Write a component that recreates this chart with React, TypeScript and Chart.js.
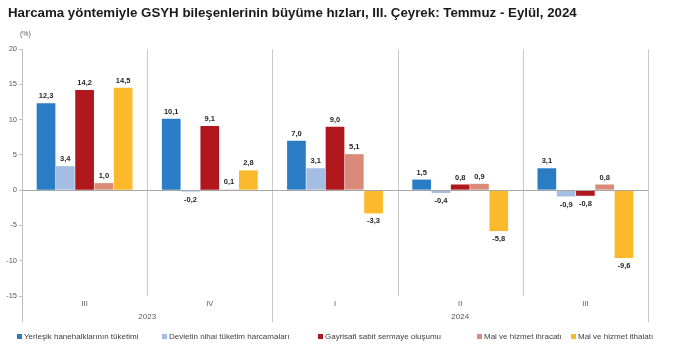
import React, { useEffect, useRef } from "react";
import { Chart, registerables } from "chart.js";

Chart.register(...registerables);

const TITLE = "Harcama yöntemiyle GSYH bileşenlerinin büyüme hızları, III. Çeyrek: Temmuz - Eylül, 2024";
const UNIT = "(%)";
const quarters = ["III", "IV", "I", "II", "III"];
const years = [
  { label: "2023", from: 0, to: 2 },
  { label: "2024", from: 2, to: 5 },
];
const seriesNames = [
  "Yerleşik hanehalklarının tüketimi",
  "Devletin nihai tüketim harcamaları",
  "Gayrisafi sabit sermaye oluşumu",
  "Mal ve hizmet ihracatı",
  "Mal ve hizmet ithalatı",
];
const householdValues = [12.3, 10.1, 7.0, 1.5, 3.1];
const governmentValues = [3.4, -0.2, 3.1, -0.4, -0.9];
const investmentValues = [14.2, 9.1, 9.0, 0.8, -0.8];
const exportValues = [1.0, 0.1, 5.1, 0.9, 0.8];
const importValues = [14.5, 2.8, -3.3, -5.8, -9.6];
const seriesColors = ["#2A7CC5", "#A3BEE2", "#B0181D", "#D98B77", "#FBB92B"];
const legendX = [17, 162, 318, 477, 571];
const yTicks = [-15, -10, -5, 0, 5, 10, 15, 20];

const FONT = "'Liberation Sans', Arial, sans-serif";

const overlay = {
  id: "overlay",
  afterDraw(chart: any) {
    const ctx = chart.ctx as CanvasRenderingContext2D;
    const ca = chart.chartArea;
    const yScale = chart.scales.y;
    const n = quarters.length;
    const cw = (ca.right - ca.left) / n;
    ctx.save();
    // title
    ctx.fillStyle = "#1a1a1a";
    ctx.font = `bold 13.3px ${FONT}`;
    ctx.textAlign = "left";
    ctx.textBaseline = "middle";
    ctx.fillText(TITLE, 8, 13);
    ctx.font = `7px ${FONT}`;
    ctx.fillStyle = "#595959";
    ctx.fillText(UNIT, 20, 34);

    // dividers
    ctx.strokeStyle = "#c9c9c9";
    ctx.lineWidth = 1;
    for (let k = 1; k <= n; k++) {
      const x = Math.round(ca.left + cw * k) + 0.5;
      const isYearEdge = k === n || years.some((y) => y.to === k);
      ctx.beginPath();
      ctx.moveTo(x, ca.top);
      ctx.lineTo(x, isYearEdge ? ca.bottom + 26 : ca.bottom);
      ctx.stroke();
    }
    // left axis extension
    ctx.strokeStyle = "#bfbfbf";
    ctx.beginPath();
    ctx.moveTo(Math.round(ca.left) + 0.5, ca.bottom);
    ctx.lineTo(Math.round(ca.left) + 0.5, ca.bottom + 26);
    ctx.stroke();

    // zero line
    const y0 = Math.round(yScale.getPixelForValue(0)) + 0.5;
    ctx.strokeStyle = "#a6a6a6";
    ctx.beginPath();
    ctx.moveTo(ca.left, y0);
    ctx.lineTo(ca.right, y0);
    ctx.stroke();

    // category labels
    ctx.fillStyle = "#595959";
    ctx.font = `7.5px ${FONT}`;
    ctx.textAlign = "center";
    quarters.forEach((q, i) => {
      ctx.fillText(q, ca.left + cw * (i + 0.5), ca.bottom + 8);
    });
    ctx.font = `8px ${FONT}`;
    years.forEach((y) => {
      ctx.fillText(y.label, ca.left + cw * (y.from + y.to) / 2, ca.bottom + 21);
    });

    // value labels
    ctx.fillStyle = "#262626";
    ctx.font = `bold 7.5px ${FONT}`;
    chart.data.datasets.forEach((ds: any, di: number) => {
      const meta = chart.getDatasetMeta(di);
      meta.data.forEach((bar: any, i: number) => {
        const v = ds.data[i];
        const txt = v.toFixed(1).replace(".", ",");
        if (v >= 0) {
          ctx.fillText(txt, bar.x, bar.y - 7);
        } else {
          ctx.fillText(txt, bar.x, bar.y + 8);
        }
      });
    });

    // legend
    ctx.font = `8px ${FONT}`;
    ctx.textAlign = "left";
    seriesNames.forEach((name, i) => {
      ctx.fillStyle = seriesColors[i];
      ctx.fillRect(legendX[i], 334, 5, 5);
      ctx.fillStyle = "#404040";
      ctx.fillText(name, legendX[i] + 7, 337);
    });
    ctx.restore();
  },
};

export default function App() {
  const ref = useRef<HTMLCanvasElement | null>(null);
  useEffect(() => {
    if (!ref.current) return;
    const data = [householdValues, governmentValues, investmentValues, exportValues, importValues];
    const chart = new Chart(ref.current, {
      type: "bar",
      data: {
        labels: quarters,
        datasets: data.map((d, i) => ({
          label: seriesNames[i],
          data: d,
          backgroundColor: seriesColors[i],
          borderWidth: 0,
          categoryPercentage: 0.77,
          barPercentage: 0.97,
        })),
      },
      options: {
        responsive: false,
        animation: false,
        devicePixelRatio: 1,
        layout: { padding: { top: 49, bottom: 61, left: 0, right: 28 } },
        plugins: { legend: { display: false }, title: { display: false }, tooltip: { enabled: false } },
        scales: {
          x: { display: false, offset: true },
          y: {
            min: -15,
            max: 20,
            afterBuildTicks: (scale: any) => {
              scale.ticks = yTicks.map((v) => ({ value: v }));
            },
            afterFit: (scale: any) => {
              scale.width = 22;
            },
            ticks: {
              color: "#595959",
              font: { family: FONT, size: 7.5 },
              padding: 2,
            },
            grid: { drawOnChartArea: false, tickLength: 3, color: "#bfbfbf" },
            border: { display: true, color: "#bfbfbf" },
          },
        },
      },
      plugins: [overlay],
    });
    return () => chart.destroy();
  }, []);
  return (
    <div style={{ position: "fixed", left: 0, top: 0, width: 676, height: 357, background: "#fff" }}>
      <canvas ref={ref} width={676} height={357} style={{ display: "block" }} />
    </div>
  );
}
